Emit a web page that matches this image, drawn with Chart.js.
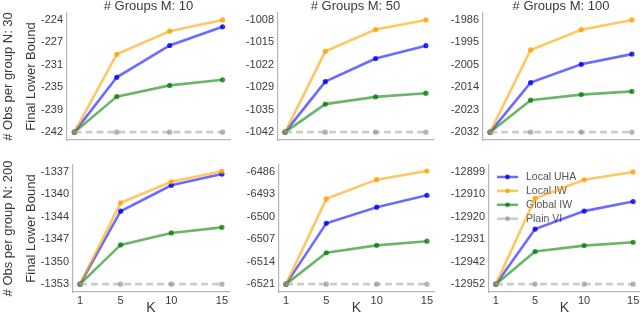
<!DOCTYPE html>
<html>
<head>
<meta charset="utf-8">
<script src="https://cdn.jsdelivr.net/npm/chart.js@4.4.1/dist/chart.umd.min.js"></script>
<style>
  html, body { margin: 0; padding: 0; width: 640px; height: 317px; overflow: hidden; background: #fff; }
  canvas { position: absolute; }
</style>
</head>
<body>
<canvas id="p0"></canvas>
<canvas id="p1"></canvas>
<canvas id="p2"></canvas>
<canvas id="p3"></canvas>
<canvas id="p4"></canvas>
<canvas id="p5"></canvas>
<script>
// Data (panels in row order: N=30 -> M=10,50,100 ; N=200 -> M=10,50,100)
const kValues = [1, 5, 10, 15];
const groupCounts = [10, 50, 100];
const obsCounts = [30, 200];
const seriesNames = ['Local UHA', 'Local IW', 'Global IW', 'Plain VI'];

const localUHA = [
    [-242, -233.2, -228.1, -225.1],
    [-1042, -1026.7, -1019.7, -1015.8],
    [-2032, -2011.7, -2004.2, -2000],
    [-1353, -1342.6, -1338.9, -1337.3],
    [-6521, -6502, -6497, -6493.3],
    [-12952, -12926, -12917.5, -12913]
];
const localIW = [
    [-242, -229.5, -225.8, -224],
    [-1042, -1017.5, -1010.9, -1008],
    [-2032, -1998.3, -1990, -1986],
    [-1353, -1341.4, -1338.4, -1336.9],
    [-6521, -6494.4, -6488.4, -6485.7],
    [-12952, -12911.5, -12902.7, -12899]
];
const globalIW = [
    [-242, -236.3, -234.5, -233.6],
    [-1042, -1033.5, -1031.3, -1030.2],
    [-2032, -2018.9, -2016.6, -2015.3],
    [-1353, -1347.4, -1345.7, -1344.9],
    [-6521, -6511.2, -6508.9, -6507.6],
    [-12952, -12936.6, -12933.8, -12932.2]
];
const plainVI = [
    [-242, -242, -242, -242],
    [-1042, -1042, -1042, -1042],
    [-2032, -2032, -2032, -2032],
    [-1353, -1353, -1353, -1353],
    [-6521, -6521, -6521, -6521],
    [-12952, -12952, -12952, -12952]
];
const yTickLabels = [
    [-224, -227, -231, -235, -239, -242],
    [-1008, -1015, -1022, -1029, -1035, -1042],
    [-1986, -1995, -2005, -2014, -2023, -2032],
    [-1337, -1340, -1344, -1347, -1350, -1353],
    [-6486, -6493, -6500, -6507, -6514, -6521],
    [-12899, -12910, -12920, -12931, -12942, -12952]
];

// Styling / layout
const FONT = "'Liberation Sans', Arial, sans-serif";
const TEXT = '#3a3a3a';
const SPINE = '#b5b5b5';
const colors = ['rgba(0,0,255,0.58)', 'rgba(255,165,0,0.62)', 'rgba(0,128,0,0.58)', 'rgba(170,170,170,0.6)'];
const pointColors = ['rgba(0,0,235,0.8)', 'rgba(255,160,0,0.8)', 'rgba(0,120,0,0.75)', 'rgba(150,150,150,0.7)'];
const axesBoxes = [
    { l: 67, r: 230, t: 13, b: 140 }, { l: 278, r: 433, t: 13, b: 140 }, { l: 483, r: 639, t: 13, b: 140 },
    { l: 73, r: 229, t: 165, b: 292 }, { l: 279, r: 434, t: 165, b: 292 }, { l: 489, r: 640, t: 165, b: 292 }
];

Chart.defaults.font.family = FONT;
Chart.defaults.color = TEXT;

// titles, row labels and y labels
const panelText = {
    id: 'panelText',
    afterDraw(chart, args, opts) {
        const { ctx, chartArea } = chart;
        ctx.save();
        ctx.fillStyle = TEXT;
        ctx.textAlign = 'center';
        if (opts.title) {
            ctx.font = '13px ' + FONT;
            ctx.textBaseline = 'alphabetic';
            ctx.fillText(opts.title, (chartArea.left + chartArea.right) / 2, 9.5);
        }
        const cy = (chartArea.top + chartArea.bottom) / 2;
        ctx.textBaseline = 'middle';
        ctx.font = '13px ' + FONT;
        [[opts.rowLabel, 8], [opts.yTitle, 31]].forEach(([txt, x]) => {
            if (!txt) return;
            ctx.save();
            ctx.translate(x, cy);
            ctx.rotate(-Math.PI / 2);
            ctx.fillText(txt, 0, 0);
            ctx.restore();
        });
        ctx.restore();
    }
};

// legend drawn inside the plot, under the lines
const innerLegend = {
    id: 'innerLegend',
    beforeDatasetsDraw(chart, args, opts) {
        if (!opts.show) return;
        const { ctx, chartArea } = chart;
        ctx.save();
        ctx.font = '10.5px ' + FONT;
        ctx.textAlign = 'left';
        ctx.textBaseline = 'middle';
        chart.data.datasets.forEach((ds, i) => {
            const y = chartArea.top + 12 + i * 13.9;
            const x0 = chartArea.left + 8;
            ctx.strokeStyle = ds.borderColor;
            ctx.lineWidth = 2.5;
            ctx.setLineDash([]);
            ctx.beginPath();
            ctx.moveTo(x0, y);
            ctx.lineTo(x0 + 21, y);
            ctx.stroke();
            ctx.fillStyle = ds.pointBackgroundColor;
            ctx.beginPath();
            ctx.arc(x0 + 10.5, y, 2.4, 0, Math.PI * 2);
            ctx.fill();
            ctx.fillStyle = '#555';
            ctx.fillText(ds.label, x0 + 29, y + 0.5);
        });
        ctx.restore();
    }
};

function makePanel(i) {
    const row = Math.floor(i / 3);
    const col = i % 3;
    const box = axesBoxes[i];
    const yw = col === 0 ? box.l : 62;
    const padTop = 13;
    const padRight = 10;
    const xh = row === 1 ? 25 : 0;
    const padBottom = row === 1 ? 0 : 12;
    const canvas = document.getElementById('p' + i);
    const w = yw + (box.r - box.l) + padRight;
    const h = padTop + (box.b - box.t) + xh + padBottom;
    canvas.width = w;
    canvas.height = h;
    canvas.style.width = w + 'px';
    canvas.style.height = h + 'px';
    canvas.style.left = (box.l - yw) + 'px';
    canvas.style.top = (box.t - padTop) + 'px';

    const labels = yTickLabels[i];
    const hi = labels[0];
    const lo = labels[labels.length - 1];
    const span = hi - lo;
    const seriesData = [localUHA[i], localIW[i], globalIW[i], plainVI[i]];

    const datasets = seriesData.map((vals, s) => ({
        label: seriesNames[s],
        data: kValues.map((k, j) => ({ x: k, y: vals[j] })),
        borderColor: colors[s],
        backgroundColor: colors[s],
        pointBackgroundColor: pointColors[s],
        pointBorderWidth: 0,
        pointRadius: 2.6,
        borderWidth: 2.6,
        borderDash: s === 3 ? [7, 4] : [],
        tension: 0,
        order: 4 - s
    }));

    new Chart(canvas, {
        type: 'line',
        data: { datasets },
        plugins: [panelText, innerLegend],
        options: {
            responsive: false,
            animation: false,
            devicePixelRatio: 1,
            layout: { padding: { top: padTop, right: padRight, bottom: padBottom, left: 0 } },
            plugins: {
                legend: { display: false },
                tooltip: { enabled: false },
                panelText: {
                    title: row === 0 ? '# Groups M: ' + groupCounts[col] : null,
                    yTitle: col === 0 ? 'Final Lower Bound' : null,
                    rowLabel: col === 0 ? '# Obs per group N: ' + obsCounts[row] : null
                },
                innerLegend: { show: i === 5 }
            },
            scales: {
                x: {
                    type: 'linear',
                    min: 0.3,
                    max: 15.7,
                    grid: { display: false, drawTicks: false },
                    border: { display: true, color: SPINE, width: 1.2 },
                    afterBuildTicks: (scale) => { scale.ticks = kValues.map(v => ({ value: v })); },
                    afterFit: (scale) => { scale.height = xh; },
                    ticks: {
                        display: row === 1,
                        font: { size: 11 },
                        color: TEXT,
                        padding: 2,
                        maxRotation: 0,
                        callback: (v) => String(v)
                    },
                    title: {
                        display: row === 1,
                        text: 'K',
                        font: { size: 14 },
                        color: TEXT,
                        padding: { top: 0, bottom: 0 }
                    }
                },
                y: {
                    type: 'linear',
                    min: lo - 0.07 * span,
                    max: hi + 0.062 * span,
                    grid: { display: false, drawTicks: false },
                    border: { display: true, color: SPINE, width: 1.2 },
                    afterBuildTicks: (scale) => {
                        scale.ticks = labels.map((_, j) => ({ value: hi - j * span / (labels.length - 1) }));
                    },
                    afterFit: (scale) => { scale.width = yw; },
                    ticks: {
                        font: { size: 11 },
                        color: TEXT,
                        padding: 4,
                        callback: (v, idx) => String(labels[idx])
                    }
                }
            }
        }
    });
}

for (let i = 0; i < 6; i++) makePanel(i);
</script>
</body>
</html>
